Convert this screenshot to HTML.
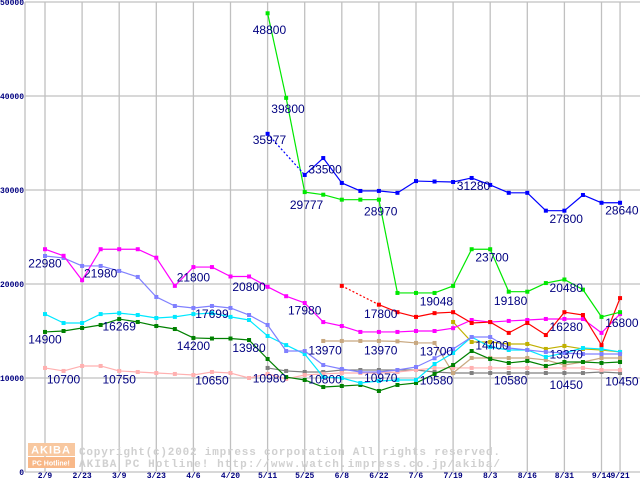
<!DOCTYPE html>
<html><head><meta charset="utf-8"><style>
body{margin:0;background:#fff;}
svg{display:block;font-family:"Liberation Sans",sans-serif;}
</style></head><body>
<svg id="chart" width="640" height="480" viewBox="0 0 640 480" xmlns="http://www.w3.org/2000/svg">
<g id="grid"></g>
<g id="wm">
  <rect x="28" y="443" width="47" height="13" fill="#f8c8a0"/>
  <text x="51" y="453.5" font-size="11" font-weight="bold" fill="#fff" text-anchor="middle" letter-spacing="1">AKIBA</text>
  <rect x="28" y="457" width="47" height="11" fill="#f8b888"/>
  <text x="51" y="465.5" font-size="7" font-weight="bold" fill="#fff" text-anchor="middle">PC Hotline!</text>
  <text x="79" y="455" font-size="11" font-weight="bold" fill="#d0d0d0" font-family="Liberation Mono,monospace" textLength="421" lengthAdjust="spacing">Copyright(c)2002 impress corporation All rights reserved.</text>
  <text x="79" y="467" font-size="11" font-weight="bold" fill="#d0d0d0" font-family="Liberation Mono,monospace" textLength="421" lengthAdjust="spacing">AKIBA PC Hotline!  http://www.watch.impress.co.jp/akiba/</text>
</g>
<g id="series"></g>
<g id="labels"></g>
</svg>
<script>
const categories=["2/9","","2/23","","3/9","","3/23","","4/6","","4/20","","5/11","","5/25","","6/8","","6/22","","7/6","","7/19","","8/3","","8/16","","8/31","","9/14","9/21"];
const yTicks=[0,10000,20000,30000,40000,50000];
const N=null;
const blue=[N,N,N,N,N,N,N,N,N,N,N,N,35977,N,31600,33400,30750,29900,29900,29700,30950,30900,30850,31280,30540,29700,29700,27800,27800,29470,28640,28640];
const lime=[N,N,N,N,N,N,N,N,N,N,N,N,48800,39800,29777,29500,28970,28970,28970,19048,19048,19048,19800,23700,23700,19180,19180,20100,20480,19400,16500,17000];
const red=[N,N,N,N,N,N,N,N,N,N,N,N,N,N,N,N,19800,N,17800,17000,16500,16900,17000,15850,15950,14800,15850,14570,17000,16700,13500,18500];
const magenta=[23700,23000,20400,23700,23700,23700,22800,19800,21800,21800,20800,20800,19700,18700,17980,15950,15530,14900,14900,14900,15000,15000,15300,16170,15950,16070,16170,16280,16280,16280,14800,16800];
const periwinkle=[22980,22770,21920,21920,21390,20750,18620,17660,17450,17660,17450,16700,15640,12870,12870,11380,10960,10640,10640,10850,11170,12100,13090,14360,14360,13190,12980,12770,12660,12550,12550,12550];
const cyan=[16800,15850,15850,16800,16900,16700,16380,16500,16800,16900,16500,16170,14470,13500,12550,10100,10000,9470,9680,9790,9790,11490,12660,14360,13300,12980,12980,12240,12660,13190,13090,12770];
const dgreen=[14900,15000,15320,15640,16269,15960,15530,15210,14260,14200,14200,14040,12020,10100,9790,9040,9150,9260,8620,9260,9470,10430,11380,12870,12020,11600,11810,11280,11700,11700,11600,11700];
const pink=[11070,10750,11280,11280,10750,10640,10530,10430,10320,10640,10530,10000,10430,9900,10320,10430,10530,10530,10530,10640,10850,11070,11070,11070,11070,11070,11070,11070,11070,11070,10850,10850];
const gray=[N,N,N,N,N,N,N,N,N,N,N,N,11070,10750,10640,10640,10850,10850,10850,10850,10850,10640,10530,10530,10530,10530,10530,10530,10530,10530,10640,10530];
const tan=[N,N,N,N,N,N,N,N,N,N,N,N,N,N,N,13940,13940,13940,13940,13900,13730,13730,10530,12130,12130,12130,12130,11920,11380,11700,12130,12130];
const olive=[N,N,N,N,N,N,N,N,N,N,N,N,N,N,N,N,N,N,N,N,N,N,15960,13830,13830,13620,13620,13090,13410,13090,12980,12770];
const seriesList=[["gray",gray,"#808080"],["pink",pink,"#ffb0b0"],["tan",tan,"#c8a880"],["olive",olive,"#c0b000"],["dark-green",dgreen,"#008000"],["cyan",cyan,"#00e8ff"],["periwinkle",periwinkle,"#8080ff"],["magenta",magenta,"#ff00ff"],["red",red,"#ff0000"],["lime",lime,"#00e800"],["blue",blue,"#0000ff"]];
const labelText=["48800","39800","35977","33500","29777","28970","31280","27800","28640","22980","21980","21800","20800","17980","17699","16269","14900","14200","13980","13970","13970","13700","17800","19048","23700","19180","20480","16280","16800","14400","13370","10700","10750","10650","10980","10800","10970","10580","10580","10450","10450"];
const labelIdx=[11.2,12.2,11.2,14.2,13.2,17.2,22.2,27.2,30.2,-0.9,2.1,7.1,10.1,13.1,8.1,3.1,-0.9,7.1,10.1,14.2,17.2,20.2,17.2,20.2,23.2,24.2,27.2,27.2,30.2,23.2,27.2,0.1,3.1,8.1,11.2,14.2,17.2,20.2,24.2,27.2,30.2];
const labelVal=[47000,38600,35300,32200,28400,27700,30400,26900,27800,22200,21100,20700,19700,17200,16800,15500,14100,13400,13200,12950,12950,12800,16800,18150,22800,18200,19600,15450,15850,13450,12500,9850,9850,9750,9950,9850,10000,9750,9750,9250,9650];
const NS="http://www.w3.org/2000/svg";
const X0=45,DX=18.55,Y0=472,KY=0.0094;
function xs(i){return X0+i*DX;}
function ys(v){return Y0-v*KY;}
function mk(t,a,p){const e=document.createElementNS(NS,t);for(const k in a)e.setAttribute(k,a[k]);p.appendChild(e);return e;}
const grid=document.getElementById('grid');
yTicks.forEach((v)=>{
  const l=mk('line',{x1:25,x2:640,y1:ys(v),y2:ys(v),stroke:'#c0c0c0','stroke-width':1.3},grid);
  
  
  const t=mk('text',{x:24,y:ys(v)+3,'font-size':8,'font-weight':'bold','text-anchor':'end',fill:'#000080','font-family':'Liberation Mono,monospace'},grid);
  t.textContent=String(v);
  
  
});
mk('line',{x1:25,x2:25,y1:ys(50000),y2:ys(0),stroke:'#c0c0c0','stroke-width':1.3},grid);
categories.forEach((c,i)=>{
  if(!c)return;
  const l=mk('line',{x1:xs(i),x2:xs(i),y1:ys(50000),y2:ys(0),stroke:'#c0c0c0','stroke-width':1.3},grid);
  
  
  const t=mk('text',{x:xs(i),y:478,'font-size':8,'font-weight':'bold','text-anchor':'middle',fill:'#000080','font-family':'Liberation Mono,monospace'},grid);
  t.textContent=c;
  
  
});
const sg=document.getElementById('series');
seriesList.forEach(([name,arr,col])=>{
  const g=mk('g',{},sg);
  
  
  let prev=-1;
  arr.forEach((v,i)=>{
    if(v===null)return;
    if(prev>=0){
      const a={x1:xs(prev),y1:ys(arr[prev]),x2:xs(i),y2:ys(v),stroke:col,'stroke-width':1.2};
      if(i-prev>1)a['stroke-dasharray']='2,2';
      const l=mk('line',a,g);
      
      
    }
    prev=i;
  });
  arr.forEach((v,i)=>{
    if(v===null)return;
    const r=mk('rect',{x:xs(i)-2,y:ys(v)-2,width:4,height:4,fill:col},g);
    
    
  });
});
const lg=document.getElementById('labels');
labelText.forEach((s,k)=>{
  const t=mk('text',{x:xs(labelIdx[k]),y:ys(labelVal[k])+4,'font-size':12,fill:'#000080'},lg);
  t.textContent=s;
  
  
});
</script>
</body></html>
